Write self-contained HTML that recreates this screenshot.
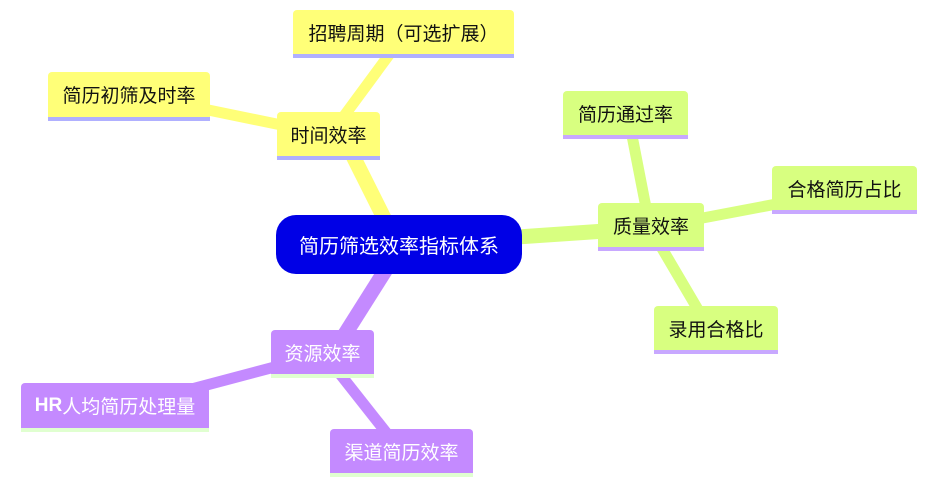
<!DOCTYPE html>
<html><head><meta charset="utf-8"><style>
body{margin:0;width:940px;height:485px;background:#fff;overflow:hidden;position:relative;font-family:"Liberation Sans","Noto Sans CJK SC",sans-serif}
.n{position:absolute;display:flex;align-items:center;justify-content:center;font-size:19px;border-radius:4px 4px 0 0;box-sizing:border-box}
.y{background:#ffff78;color:#111;border-bottom:4px solid #b0b0ff}
.g{background:#d8ff80;color:#111;border-bottom:4px solid #c8a8ff}
.p{background:#c48aff;color:#fff;border-bottom:4px solid #e0ffd0}
svg{position:absolute;left:0;top:0}
</style></head><body>
<svg width="940" height="485">
<g stroke-linecap="butt" fill="none">
<line x1="395" y1="240" x2="345" y2="140" stroke="#ffff78" stroke-width="15"/>
<line x1="330" y1="135" x2="400" y2="40" stroke="#ffff78" stroke-width="11"/>
<line x1="330" y1="135" x2="150" y2="98" stroke="#ffff78" stroke-width="11"/>
<line x1="400" y1="245" x2="650" y2="228" stroke="#d8ff80" stroke-width="15"/>
<line x1="650" y1="228" x2="628" y2="115" stroke="#d8ff80" stroke-width="11"/>
<line x1="650" y1="228" x2="840" y2="192" stroke="#d8ff80" stroke-width="11"/>
<line x1="650" y1="228" x2="710" y2="330" stroke="#d8ff80" stroke-width="11"/>
<line x1="395" y1="255" x2="335" y2="350" stroke="#c48aff" stroke-width="15"/>
<line x1="320" y1="355" x2="150" y2="400" stroke="#c48aff" stroke-width="11"/>
<line x1="325" y1="355" x2="400" y2="450" stroke="#c48aff" stroke-width="11"/>
</g></svg>
<div class="n y" style="left:293px;top:10px;width:221px;height:48px">招聘周期（可选扩展）</div>
<div class="n y" style="left:48px;top:72px;width:162px;height:49px">简历初筛及时率</div>
<div class="n y" style="left:277px;top:112px;width:103px;height:48px">时间效率</div>
<div class="n" style="left:276px;top:215px;width:246px;height:59px;border-radius:20px;background:#0000e6;color:#fff;font-size:20px">简历筛选效率指标体系</div>
<div class="n g" style="left:598px;top:203px;width:106px;height:48px">质量效率</div>
<div class="n g" style="left:563px;top:91px;width:125px;height:48px">简历通过率</div>
<div class="n g" style="left:772px;top:166px;width:145px;height:48px">合格简历占比</div>
<div class="n g" style="left:654px;top:306px;width:124px;height:48px">录用合格比</div>
<div class="n p" style="left:271px;top:330px;width:103px;height:48px">资源效率</div>
<div class="n p" style="left:21px;top:383px;width:188px;height:49px;font-weight:bold">HR<span style="font-weight:normal">人均简历处理量</span></div>
<div class="n p" style="left:330px;top:429px;width:143px;height:48px">渠道简历效率</div>
</body></html>
